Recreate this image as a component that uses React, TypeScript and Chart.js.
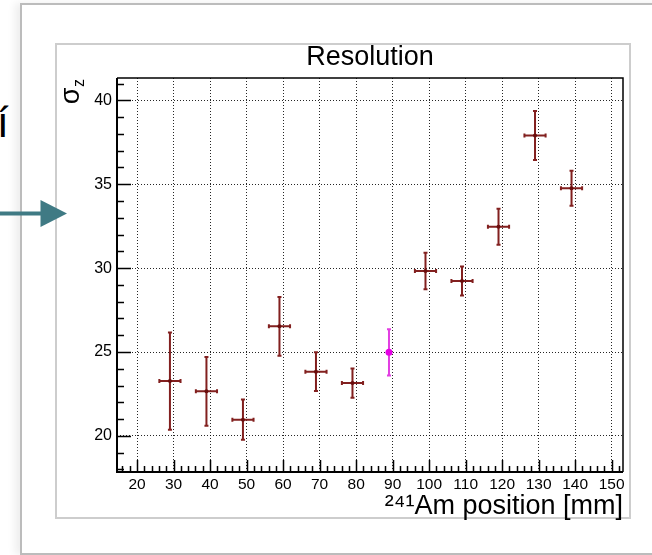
import React, { useEffect, useRef } from "react";
import { Chart, registerables } from "chart.js";

Chart.register(...registerables);

// ---- text ----
const chartTitle = "Resolution";
const xAxisTitle = "²⁴¹Am position [mm]";
const yAxisTitleMain = "σ";
const yAxisTitleSub = "z";
const sideGlyph = "í";

// ---- axes ----
const xMin = 14.5;
const xMax = 153.1;
const yMin = 17.85;
const yMax = 41.33;
const xTicks = [20, 30, 40, 50, 60, 70, 80, 90, 100, 110, 120, 130, 140, 150];
const yTicks = [20, 25, 30, 35, 40];
const xMinorStep = 2;
const yMinorStep = 1;

// ---- data: resolution vs source position ----
const posX = [29, 39, 49, 59, 69, 79, 99, 109, 119, 129, 139];
const sigmaZ = [23.27, 22.66, 20.97, 26.53, 23.83, 23.15, 29.83, 29.23, 32.47, 37.91, 34.76];
const sigmaZErr = [2.9, 2.05, 1.2, 1.75, 1.16, 0.87, 1.09, 0.86, 1.07, 1.46, 1.05];
const posXErr = [2.9, 2.9, 2.9, 2.9, 2.9, 2.9, 2.9, 2.9, 2.9, 2.9, 2.9];

// reference (highlighted) point
const refX = [89];
const refSigmaZ = [24.98];
const refSigmaZErr = [1.38];
const refXErr = [0];

const FONT = "'Liberation Sans', Arial, Helvetica, sans-serif";

const errorBarPlugin = {
  id: "errorBars",
  beforeDatasetsDraw(chart: any) {
    const { ctx } = chart;
    const xs = chart.scales.x;
    const ys = chart.scales.y;
    chart.data.datasets.forEach((ds: any, i: number) => {
      const meta = chart.getDatasetMeta(i);
      if (meta.hidden) return;
      ctx.save();
      ctx.strokeStyle = ds.errColor;
      ctx.lineWidth = 2;
      ds.data.forEach((p: any, j: number) => {
        const px = xs.getPixelForValue(p.x);
        const py = ys.getPixelForValue(p.y);
        const ye = ds.yErr[j];
        const xe = ds.xErr[j];
        const cap = 2;
        if (ye > 0) {
          const yt = ys.getPixelForValue(p.y + ye);
          const yb = ys.getPixelForValue(p.y - ye);
          ctx.beginPath();
          ctx.moveTo(px, yt);
          ctx.lineTo(px, yb);
          ctx.moveTo(px - cap, yt);
          ctx.lineTo(px + cap, yt);
          ctx.moveTo(px - cap, yb);
          ctx.lineTo(px + cap, yb);
          ctx.stroke();
        }
        if (xe > 0) {
          const xl = xs.getPixelForValue(p.x - xe);
          const xr = xs.getPixelForValue(p.x + xe);
          ctx.beginPath();
          ctx.moveTo(xl, py);
          ctx.lineTo(xr, py);
          ctx.moveTo(xl, py - cap);
          ctx.lineTo(xl, py + cap);
          ctx.moveTo(xr, py - cap);
          ctx.lineTo(xr, py + cap);
          ctx.stroke();
        }
      });
      ctx.restore();
    });
  },
};

const frameTicksPlugin = {
  id: "frameTicks",
  afterDatasetsDraw(chart: any) {
    const { ctx, chartArea } = chart;
    const { left, right, top, bottom } = chartArea;
    const xs = chart.scales.x;
    const ys = chart.scales.y;
    ctx.save();
    ctx.strokeStyle = "#000";
    // frame
    ctx.lineWidth = 1.5;
    ctx.beginPath();
    ctx.moveTo(left, top);
    ctx.lineTo(right, top);
    ctx.lineTo(right, bottom);
    ctx.stroke();
    ctx.lineWidth = 2;
    ctx.beginPath();
    ctx.moveTo(left, top);
    ctx.lineTo(left, bottom);
    ctx.lineTo(right, bottom);
    ctx.stroke();
    // y ticks (inside)
    ctx.lineWidth = 1.5;
    ctx.beginPath();
    for (let v = Math.ceil(yMin / yMinorStep) * yMinorStep; v <= yMax; v += yMinorStep) {
      const py = Math.round(ys.getPixelForValue(v)) + 0.5;
      const major = yTicks.includes(v);
      ctx.moveTo(left, py);
      ctx.lineTo(left + (major ? 14 : 7), py);
    }
    // x ticks (inside)
    for (let v = Math.ceil(xMin / xMinorStep) * xMinorStep; v <= xMax; v += xMinorStep) {
      const px = Math.round(xs.getPixelForValue(v)) + 0.5;
      const major = xTicks.includes(v);
      ctx.moveTo(px, bottom);
      ctx.lineTo(px, bottom - (major ? 12 : 6));
    }
    ctx.stroke();
    // y axis title: sigma with subscript z, rotated, aligned to top of axis
    ctx.fillStyle = "#000";
    ctx.translate(79, top + 1);
    ctx.rotate(-Math.PI / 2);
    ctx.textAlign = "right";
    ctx.textBaseline = "alphabetic";
    ctx.font = `16px ${FONT}`;
    const zw = ctx.measureText(yAxisTitleSub).width;
    ctx.fillText(yAxisTitleSub, 0, 5);
    ctx.font = `27px ${FONT}`;
    ctx.fillText(yAxisTitleMain, -zw - 0.5, 0);
    ctx.restore();
  },
};

function App() {
  const canvasRef = useRef<HTMLCanvasElement | null>(null);

  useEffect(() => {
    const canvas = canvasRef.current;
    if (!canvas) return;
    Chart.defaults.font.family = FONT;
    Chart.defaults.color = "#000";
    const chart = new Chart(canvas, {
      type: "scatter",
      data: {
        datasets: [
          {
            label: "σz",
            data: posX.map((x, i) => ({ x, y: sigmaZ[i] })),
            yErr: sigmaZErr,
            xErr: posXErr,
            errColor: "#82201f",
            pointRadius: 2,
            pointBackgroundColor: "#6a0d0d",
            pointBorderWidth: 0,
            showLine: false,
          } as any,
          {
            label: "reference",
            data: refX.map((x, i) => ({ x, y: refSigmaZ[i] })),
            yErr: refSigmaZErr,
            xErr: refXErr,
            errColor: "#e23ee2",
            pointRadius: 3.5,
            pointBackgroundColor: "#e600e6",
            pointBorderWidth: 0,
            showLine: false,
          } as any,
        ],
      },
      options: {
        animation: false,
        responsive: false,
        devicePixelRatio: 1,
        layout: { padding: { left: 60, right: 29, top: 40, bottom: 35 } },
        plugins: {
          legend: { display: false },
          tooltip: { enabled: false },
          title: {
            display: true,
            text: chartTitle,
            fullSize: false,
            align: "center",
            color: "#000",
            font: { size: 27, weight: "normal", lineHeight: 1 },
            padding: { top: 4, bottom: 7 },
          },
        },
        scales: {
          x: {
            type: "linear",
            min: xMin,
            max: xMax,
            afterBuildTicks: (s: any) => {
              s.ticks = xTicks.map((v) => ({ value: v }));
            },
            afterFit: (s: any) => {
              s.height = 48;
            },
            grid: { color: "rgba(0,0,0,0.85)", lineWidth: 1, drawTicks: false },
            border: { display: false, dash: [1, 2] },
            ticks: {
              font: { size: 15.5 },
              padding: 3,
              maxRotation: 0,
              autoSkip: false,
              color: "#000",
            },
            title: {
              display: true,
              text: xAxisTitle,
              align: "end",
              color: "#000",
              font: { size: 27, lineHeight: 1 },
              padding: { top: 0, bottom: 0 },
            },
          },
          y: {
            type: "linear",
            min: yMin,
            max: yMax,
            afterBuildTicks: (s: any) => {
              s.ticks = yTicks.map((v) => ({ value: v }));
            },
            afterFit: (s: any) => {
              s.width = 57;
            },
            grid: { color: "rgba(0,0,0,0.85)", lineWidth: 1, drawTicks: false },
            border: { display: false, dash: [1, 2] },
            ticks: { font: { size: 16 }, padding: 5, color: "#000" },
          },
        },
      },
      plugins: [errorBarPlugin, frameTicksPlugin],
    } as any);
    return () => chart.destroy();
  }, []);

  return (
    <div
      style={{
        position: "fixed",
        left: 0,
        top: 0,
        width: 652,
        height: 555,
        overflow: "hidden",
        background: "#fff",
      }}
    >
      <div
        style={{
          position: "absolute",
          left: 20,
          top: 3,
          width: 800,
          height: 548,
          border: "2px solid #bcbcbc",
          boxShadow: "-5px 0 8px rgba(0,0,0,0.07)",
          background: "#fff",
        }}
      />
      <div
        style={{
          position: "absolute",
          left: 55,
          top: 43,
          width: 572,
          height: 472,
          border: "2px solid #cdcdcd",
          background: "#fff",
        }}
      />
      <svg
        width={80}
        height={240}
        style={{ position: "absolute", left: 0, top: 0 }}
      >
        <text x={-3} y={137} fontSize={42} fontFamily={FONT} fill="#000">
          {sideGlyph}
        </text>
        <line x1={0} y1={213.5} x2={42} y2={213.5} stroke="#3f7a84" strokeWidth={4} />
        <polygon points="40.5,200 40.5,227 67,213.5" fill="#3f7a84" />
      </svg>
      <canvas
        ref={canvasRef}
        width={652}
        height={555}
        style={{ position: "absolute", left: 0, top: 0, width: 652, height: 555 }}
      />
    </div>
  );
}

export default App;
